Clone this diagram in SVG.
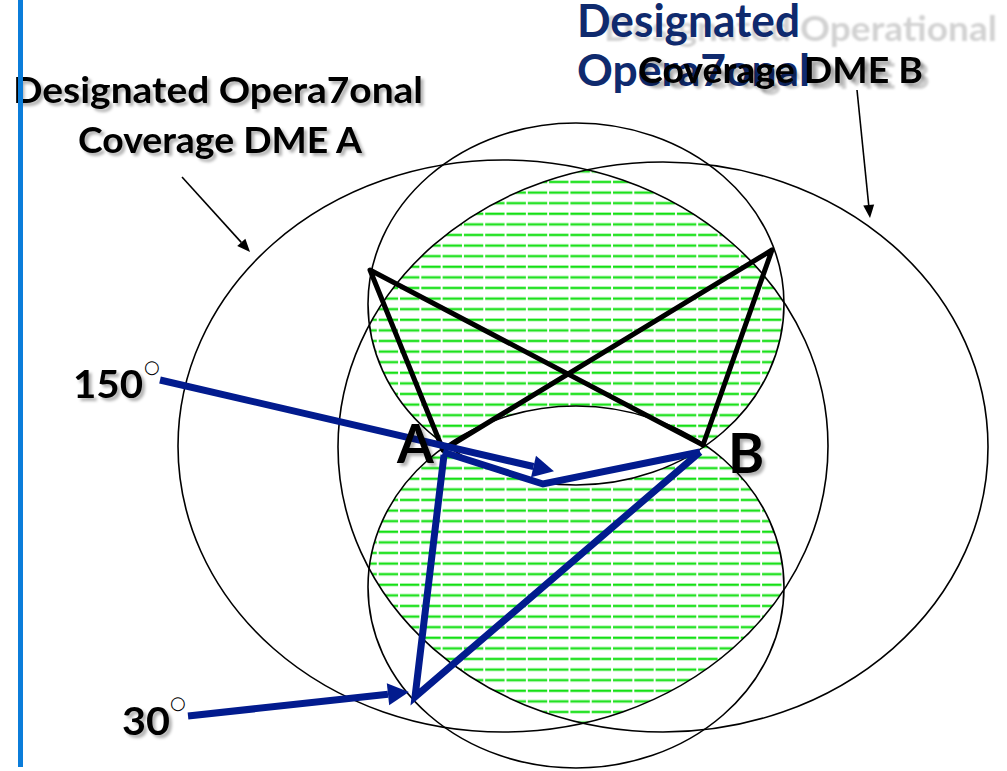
<svg xmlns="http://www.w3.org/2000/svg" width="1007" height="771" viewBox="0 0 1007 771">
<style>
.thin{fill:none;stroke:#000;stroke-width:1.6}
.blk{fill:none;stroke:#000;stroke-width:5;stroke-linecap:round;stroke-linejoin:round}
.blu{fill:none;stroke:#021b8e;stroke-width:7;stroke-linejoin:miter}
.t{font-family:Lato,"Liberation Sans",sans-serif;font-weight:bold}
.ghost{fill:#d2d2d2}
.navy{fill:#0f2a6e}
.deg{font-family:"DejaVu Sans",sans-serif;font-size:18px;fill:#000}
</style>
<defs>
<pattern id="hatch" patternUnits="userSpaceOnUse" x="-4.7" y="0" width="21.3" height="10.6">
<rect x="0" y="0.2" width="19.4" height="0.6" fill="#a8f2a8"/>
<rect x="0" y="0.8" width="19.4" height="2" fill="#12e012"/>
<rect x="0" y="2.8" width="19.4" height="0.6" fill="#a8f2a8"/>
</pattern>
<clipPath id="clipA"><ellipse cx="503" cy="446" rx="325" ry="286"/></clipPath>
<clipPath id="clipB"><ellipse cx="663" cy="447" rx="325" ry="285"/></clipPath>
<filter id="sh" x="-10%" y="-30%" width="130%" height="180%">
<feDropShadow dx="3" dy="3" stdDeviation="1.6" flood-color="#000" flood-opacity="0.3"/>
</filter>
<filter id="blur"><feGaussianBlur stdDeviation="0.9"/></filter>
<marker id="bhead" markerUnits="userSpaceOnUse" markerWidth="22" markerHeight="24" refX="0" refY="11" orient="auto" overflow="visible">
<path d="M0,0 L21,11 L0,22 Z" fill="#021b8e"/>
</marker>
<marker id="khead" markerUnits="userSpaceOnUse" markerWidth="14" markerHeight="12" refX="0" refY="5.5" orient="auto" overflow="visible">
<path d="M0,0 L13,5.5 L0,11 Z" fill="#000"/>
</marker>
</defs>
<rect width="1007" height="771" fill="#fff"/>

<g id="hatched-region" clip-path="url(#clipA)">
<g clip-path="url(#clipB)">
<path fill="url(#hatch)" fill-rule="evenodd" d="M368,304 a208,181 0 1,0 416,0 a208,181 0 1,0 -416,0 Z M368,587 a208,181 0 1,0 416,0 a208,181 0 1,0 -416,0 Z"/>
</g>
</g>

<g id="coverage-A"><ellipse class="thin" cx="503" cy="446" rx="325" ry="286"/></g>
<g id="coverage-B"><ellipse class="thin" cx="663" cy="447" rx="325" ry="285"/></g>
<g id="upper-circle"><ellipse class="thin" cx="576" cy="304" rx="208" ry="181"/></g>
<g id="lower-circle"><ellipse class="thin" cx="576" cy="587" rx="208" ry="181"/></g>

<g id="connectors">
<polyline class="blk" points="443,450 370,270 703,445"/>
<polyline class="blk" points="443,450 772,250 703,445"/>
<polyline class="blu" points="444,455 415,697 700,452"/>
<polyline class="blu" points="443,452 543,484 700,452"/>
<line class="blu" x1="160" y1="380" x2="533.5" y2="466.5" marker-end="url(#bhead)"/>
<line class="blu" x1="188" y1="716" x2="388" y2="694.3" marker-end="url(#bhead)"/>
<line class="thin" x1="182" y1="177" x2="241.3" y2="242.4" marker-end="url(#khead)"/>
<line class="thin" x1="857" y1="90" x2="868.7" y2="205" marker-end="url(#khead)"/>
</g>

<g id="label-A-coverage" filter="url(#sh)">
<text class="t" x="13" y="103" font-size="37" textLength="410" lengthAdjust="spacingAndGlyphs">Designated Opera7onal</text>
<text class="t" x="78" y="153" font-size="37" textLength="284" lengthAdjust="spacingAndGlyphs">Coverage DME A</text>
</g>

<g id="label-B-coverage">
<g filter="url(#blur)">
<text class="t ghost" x="604" y="41" font-size="34" textLength="393" lengthAdjust="spacingAndGlyphs">Designated Operational</text>
<text class="t ghost" x="643" y="89" font-size="37" textLength="287" lengthAdjust="spacingAndGlyphs">Coverage DME B</text>
</g>
<text class="t navy" x="577" y="37" font-size="45" textLength="223" lengthAdjust="spacingAndGlyphs">Designated</text>
<text class="t navy" x="577" y="86" font-size="44" textLength="233" lengthAdjust="spacingAndGlyphs">Opera7onal</text>
<text class="t" x="638" y="83" font-size="37" textLength="285" lengthAdjust="spacingAndGlyphs" filter="url(#sh)">Coverage DME B</text>
</g>

<g id="node-A"><text class="t" x="397" y="463" font-size="53" filter="url(#sh)">A</text></g>
<g id="node-B"><text class="t" x="728" y="473" font-size="55" filter="url(#sh)">B</text></g>

<g id="angle-150">
<text class="t" x="73" y="398" font-size="39" textLength="70" lengthAdjust="spacingAndGlyphs" filter="url(#sh)">150</text>
<text class="deg" x="144" y="373">○</text>
</g>
<g id="angle-30">
<text class="t" x="122" y="735" font-size="39" textLength="48" lengthAdjust="spacingAndGlyphs" filter="url(#sh)">30</text>
<text class="deg" x="170" y="709">○</text>
</g>

<rect id="sidebar" x="18" y="0" width="5" height="767" fill="#0b7dda"/>
</svg>
